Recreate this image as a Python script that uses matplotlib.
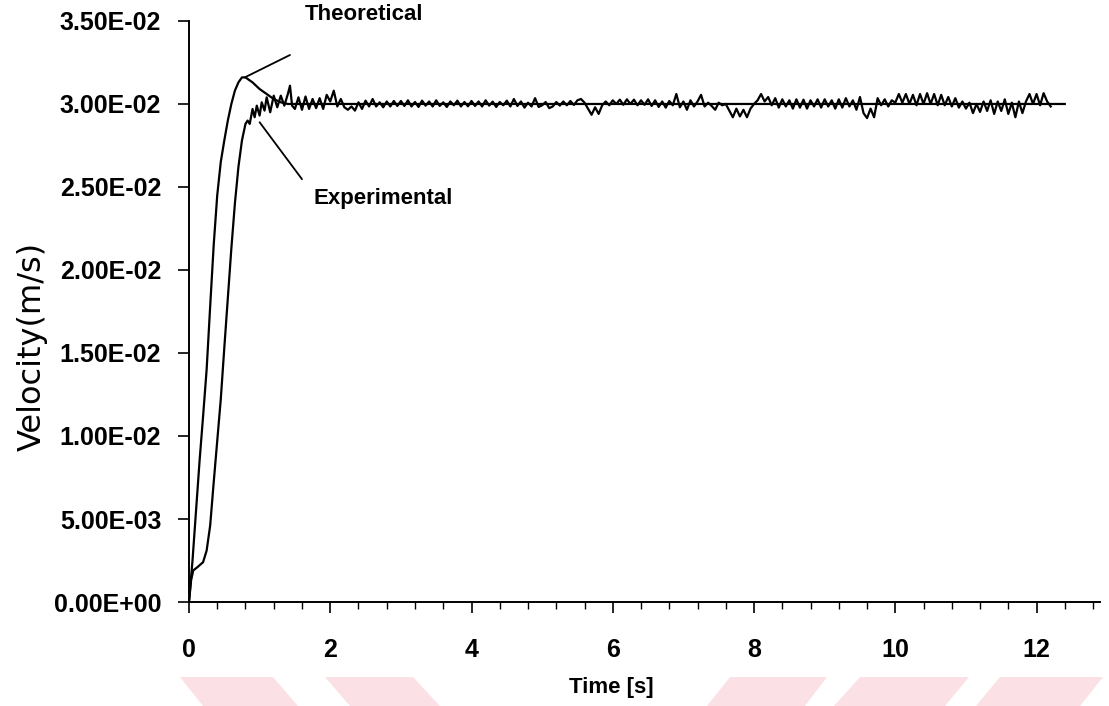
import matplotlib.pyplot as plt
from matplotlib.ticker import MultipleLocator, FuncFormatter
from matplotlib.patches import Polygon
import numpy as np

# theoretical response
t_theo = [0.0, 0.05, 0.1, 0.15, 0.2, 0.25, 0.3, 0.35, 0.4, 0.45, 0.5, 0.55,
          0.6, 0.65, 0.7, 0.75, 0.8, 0.9, 1.0, 1.1, 1.2, 1.3, 1.4, 12.4]
v_theo = [0.0, 0.0025, 0.0055, 0.0085, 0.0112, 0.0140, 0.0178, 0.0215, 0.0245,
          0.0265, 0.0278, 0.0290, 0.0300, 0.0308, 0.0313, 0.0316, 0.0316,
          0.0313, 0.0309, 0.0306, 0.0303, 0.0301, 0.0300, 0.0300]

# experimental: start-up part
t_exp_start = [0.0, 0.03, 0.06, 0.12, 0.2, 0.25, 0.3, 0.35, 0.4, 0.45, 0.5,
               0.55, 0.6, 0.65, 0.7, 0.75, 0.8, 0.83, 0.86, 0.9, 0.93, 0.96,
               1.0, 1.03, 1.07, 1.1, 1.15, 1.2, 1.25, 1.3, 1.35, 1.4, 1.43, 1.46]
v_exp_start = [0.0, 0.0013, 0.0019, 0.0021, 0.0024, 0.0031, 0.0046, 0.0072,
               0.0097, 0.0122, 0.0153, 0.0183, 0.0213, 0.0240, 0.0262, 0.0278,
               0.0288, 0.0290, 0.0288, 0.0297, 0.0292, 0.0299, 0.0293, 0.0301,
               0.0296, 0.0304, 0.0295, 0.0305, 0.0298, 0.0305, 0.0299, 0.0306,
               0.0311, 0.0299]

# experimental: steady part, 1.50 .. 12.20 s every 0.05 s, deviation from 0.030 in 1e-5 m/s
t_exp_steady = np.linspace(1.5, 12.2, 215)
dev_exp_steady = [
    -30, 40, -35, 45, -30, 30, -25, 35, -30, 55,
    15, 80, -15, 30, -20, -35, -15, -40, 10, -30, 20, -15, 30, -15, 10, -20, 15, -15, 18, -12,
    18, -12, 22, -15, 12, -18, 20, -10, 15, -15, 22, -12, 10, -18, 15, -8, 20, -15, 12, -14,
    18, -12, 15, -15, 22, -10, 14, -18, 12, -8, 20, -15, 30, -12, 15, -22, 8, -15, 35, -18,
    -8, 12, -25, -15, 12, -10, 15, -8, 18, -6, 22, 30, 8, -28, -65, -20, -60, -8, 15, -8,
    22, 0, 26, -5, 28, 0, 26, -8, 22, -5, 28, -12, 22, -18, 15, -22, 18, -8, 60, -20,
    15, -35, 22, -15, 15, 55, -15, 8, -12, -35, 8, -8, 0, -40, -80, -28, -75, -35, -80, -28,
    0, 22, 60, 15, 42, -8, 35, -22, 28, -15, 22, -28, 28, -22, 26, -28, 22, -15, 28, -22,
    28, -15, 22, -28, 28, -22, 35, -15, 22, -35, 42, -55, -85, -28, -80, 35, -8, 28, -15, 22,
    8, 60, 8, 60, 0, 55, -8, 60, 0, 65, 0, 60, -8, 55, -8, 42, -15, 35, -22, 15,
    -28, 8, -55, 0, -48, 15, -42, 22, -60, 15, -42, 28, -60, 8, -80, 15, -55, 15, 60, 0,
    60, -8, 65, 15, -15,
]
v_exp_steady = 0.030 + np.array(dev_exp_steady) * 1e-5

t_exp = np.concatenate([t_exp_start, t_exp_steady])
v_exp = np.concatenate([v_exp_start, v_exp_steady])

plt.rcParams['font.family'] = ['Liberation Sans', 'DejaVu Sans']

fig = plt.figure(figsize=(11.09, 7.06), dpi=100)
ax = fig.add_axes([0.1704, 0.1473, 0.8216, 0.823])

# faint watermark stripes along the bottom
stripes = [
    [(180, 677), (273, 677), (298, 706), (203, 706)],
    [(325, 677), (413, 677), (440, 706), (350, 706)],
    [(730, 677), (827, 677), (805, 706), (707, 706)],
    [(860, 677), (969, 677), (945, 706), (834, 706)],
    [(1000, 677), (1103, 677), (1080, 706), (976, 706)],
]
for pts in stripes:
    fig.patches.append(Polygon([(x / 1109, 1 - y / 706) for x, y in pts],
                               closed=True, transform=fig.transFigure,
                               facecolor='#fbe1e5', edgecolor='none', zorder=0))

ax.plot(t_theo, v_theo, color='black', linewidth=1.6)
ax.plot(t_exp, v_exp, color='black', linewidth=1.6)

ax.set_xlim(0, 12.9)
ax.set_ylim(0, 0.035)
ax.xaxis.set_major_locator(MultipleLocator(2))
ax.xaxis.set_minor_locator(MultipleLocator(0.4))
ax.yaxis.set_major_locator(MultipleLocator(0.005))
ax.yaxis.set_major_formatter(FuncFormatter(lambda v, p: format(v, '.2E')))

for s in ['top', 'right']:
    ax.spines[s].set_visible(False)
for s in ['left', 'bottom']:
    ax.spines[s].set_linewidth(1.4)

ax.tick_params(axis='x', which='major', direction='out', length=8, width=1.2,
               pad=18, labelsize=18)
ax.tick_params(axis='x', which='minor', direction='out', length=5, width=1.0)
ax.tick_params(axis='y', direction='out', length=8, width=1.2, pad=12, labelsize=18)
for lab in ax.get_xticklabels() + ax.get_yticklabels():
    lab.set_fontweight('bold')

ax.set_ylabel('Velocity(m/s)', fontsize=23, family='DejaVu Sans')
ax.yaxis.set_label_coords(-0.155, 0.44)
ax.set_xlabel('Time [s]', fontsize=16, fontweight='bold')
ax.xaxis.set_label_coords(0.463, -0.148)
ax.xaxis.label.set_va('center')

# leader lines and their labels
ax.annotate('', xy=(0.79, 0.0316), xytext=(1.43, 0.03295),
            arrowprops=dict(arrowstyle='-', color='black', lw=1.3,
                            shrinkA=0, shrinkB=0),
            annotation_clip=False)
ax.text(1.64, 0.0354, 'Theoretical', fontsize=16, fontweight='bold',
        va='center', ha='left', clip_on=False)
ax.annotate('', xy=(1.0, 0.0289), xytext=(1.6, 0.02547),
            arrowprops=dict(arrowstyle='-', color='black', lw=1.3,
                            shrinkA=0, shrinkB=0),
            annotation_clip=False)
ax.text(1.76, 0.0243, 'Experimental', fontsize=16, fontweight='bold',
        va='center', ha='left')

fig.savefig('out.png', dpi=100)
